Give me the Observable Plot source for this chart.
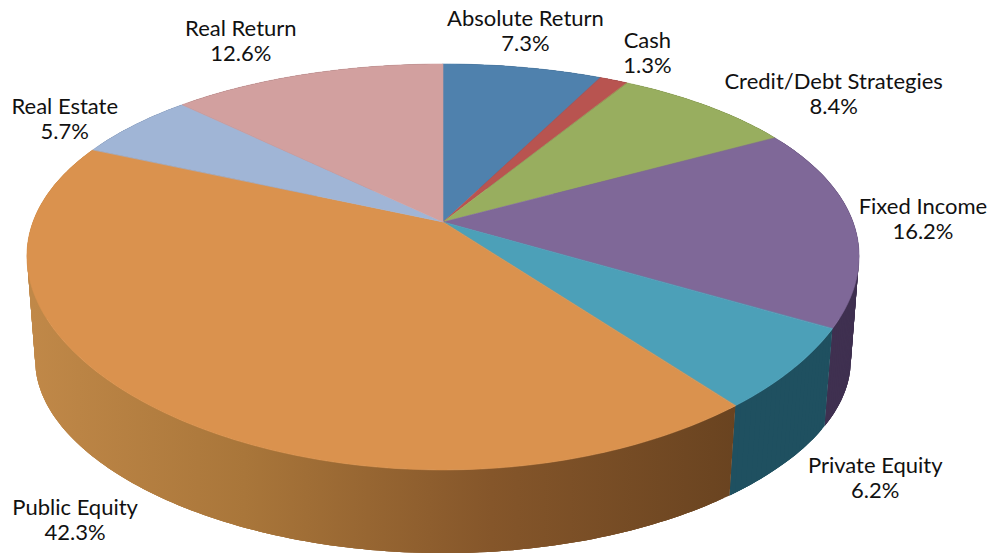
<!DOCTYPE html>
<html>
<head>
<meta charset="utf-8">
<style>html,body{margin:0;padding:0;background:#fff}svg{display:block}</style>
<script src="https://cdn.jsdelivr.net/npm/d3@7"></script>
<script src="https://cdn.jsdelivr.net/npm/@observablehq/plot@0.6"></script>
</head>
<body>
<script>
const categories = ["Absolute Return","Cash","Credit/Debt Strategies","Fixed Income","Private Equity","Public Equity","Real Estate","Real Return"];
const shares = [7.3,1.3,8.4,16.2,6.2,42.3,5.7,12.6];
const faceColors = ["#4f81ad","#b85450","#98ae5f","#7f6898","#4ca0b8","#da924e","#a0b5d6","#d2a09f"];
const wallColors = ["#2f4f70","#703230","#5c6a38","#3f3050","#1f5060","url(#publicWall)","#60708a","#806060"];

// layout of the tilted disc
const apex = {x:443, y:222}, spreadX = 410, spreadY = 193, tiltX = 0.17, tiltY = 0.2215;
const depth = 108, floorScaleX = 0.98, floorScaleY = 0.9;
const labelShift = [[2,-37],[33,-28],[126,-13],[69,-5],[82,108],[-77,113],[-70,-7],[-66,-34]];

const total = d3.sum(shares);
const project = (t, floor) => {
  const a = 2 * Math.PI * t, u = Math.sin(a), v = -Math.cos(a);
  return {
    x: apex.x + (floor ? floorScaleX : 1) * spreadX * u / (1 - tiltX * v),
    y: apex.y + (floor ? depth : 0) + (floor ? floorScaleY : 1) * spreadY * v / (1 - tiltY * v)
  };
};
let run = 0;
const slices = categories.map((name, i) => {
  const start = run / total; run += shares[i];
  const end = run / total, steps = Math.max(8, Math.ceil((end - start) * 360));
  const ts = d3.range(steps + 1).map(k => start + (end - start) * k / steps);
  const rim = ts.map(t => project(t, false));
  // wall strips: each one overlaps its neighbours, so no seam shows and the tilted silhouette stays filled
  const strips = d3.range(steps).flatMap(k => [k, k + 1, k + 2, k + 3].filter(j => j <= steps).map(j => {
    const top = project(ts[j], false), low = project(ts[j], true);
    return {step: k, x: top.x, y: top.y, lx: low.x, ly: low.y};
  }));
  const mid = project((start + end) / 2, false);
  return {name, share: shares[i], face: faceColors[i], wall: wallColors[i], rim, strips, mid, shift: labelShift[i]};
});

const defs = () => {
  const d = d3.create("svg:defs");
  const g = d.append("linearGradient").attr("id","publicWall").attr("gradientUnits","userSpaceOnUse")
    .attr("x1",apex.x - spreadX).attr("x2",apex.x + 0.72 * spreadX).attr("y1",0).attr("y2",0);
  [[0,"#c08848"],[0.3,"#a9763a"],[0.65,"#85562a"],[1,"#694320"]].forEach(([o,c]) => g.append("stop").attr("offset",o).attr("stop-color",c));
  return d.node();
};

const plot = Plot.plot({
  width: 992, height: 554, margin: 0,
  x: {domain:[0,992], range:[0,992], axis:null},
  y: {domain:[0,554], range:[0,554], axis:null},
  style: {background:"#fff"},
  marks: [
    defs,
    ...slices.map(s => Plot.area(s.strips, {x1:"x", y1:"y", x2:"lx", y2:"ly", z:"step", fill:s.wall})),
    ...slices.map(s => Plot.area(s.rim, {x1:"x", y1:"y", x2:() => apex.x, y2:() => apex.y, fill:s.face, stroke:s.face, strokeWidth:0.6})),
    ...slices.map(s => Plot.text([s], {
      x: d => d.mid.x, y: d => d.mid.y, dx: s.shift[0], dy: s.shift[1],
      text: d => `${d.name}\n${d.share.toFixed(1)}%`,
      fontFamily: "Lato", fontSize: 22, lineHeight: 1.14, fill: "#111", textAnchor: "middle"
    }))
  ]
});
document.body.appendChild(plot);
</script>
</body>
</html>
